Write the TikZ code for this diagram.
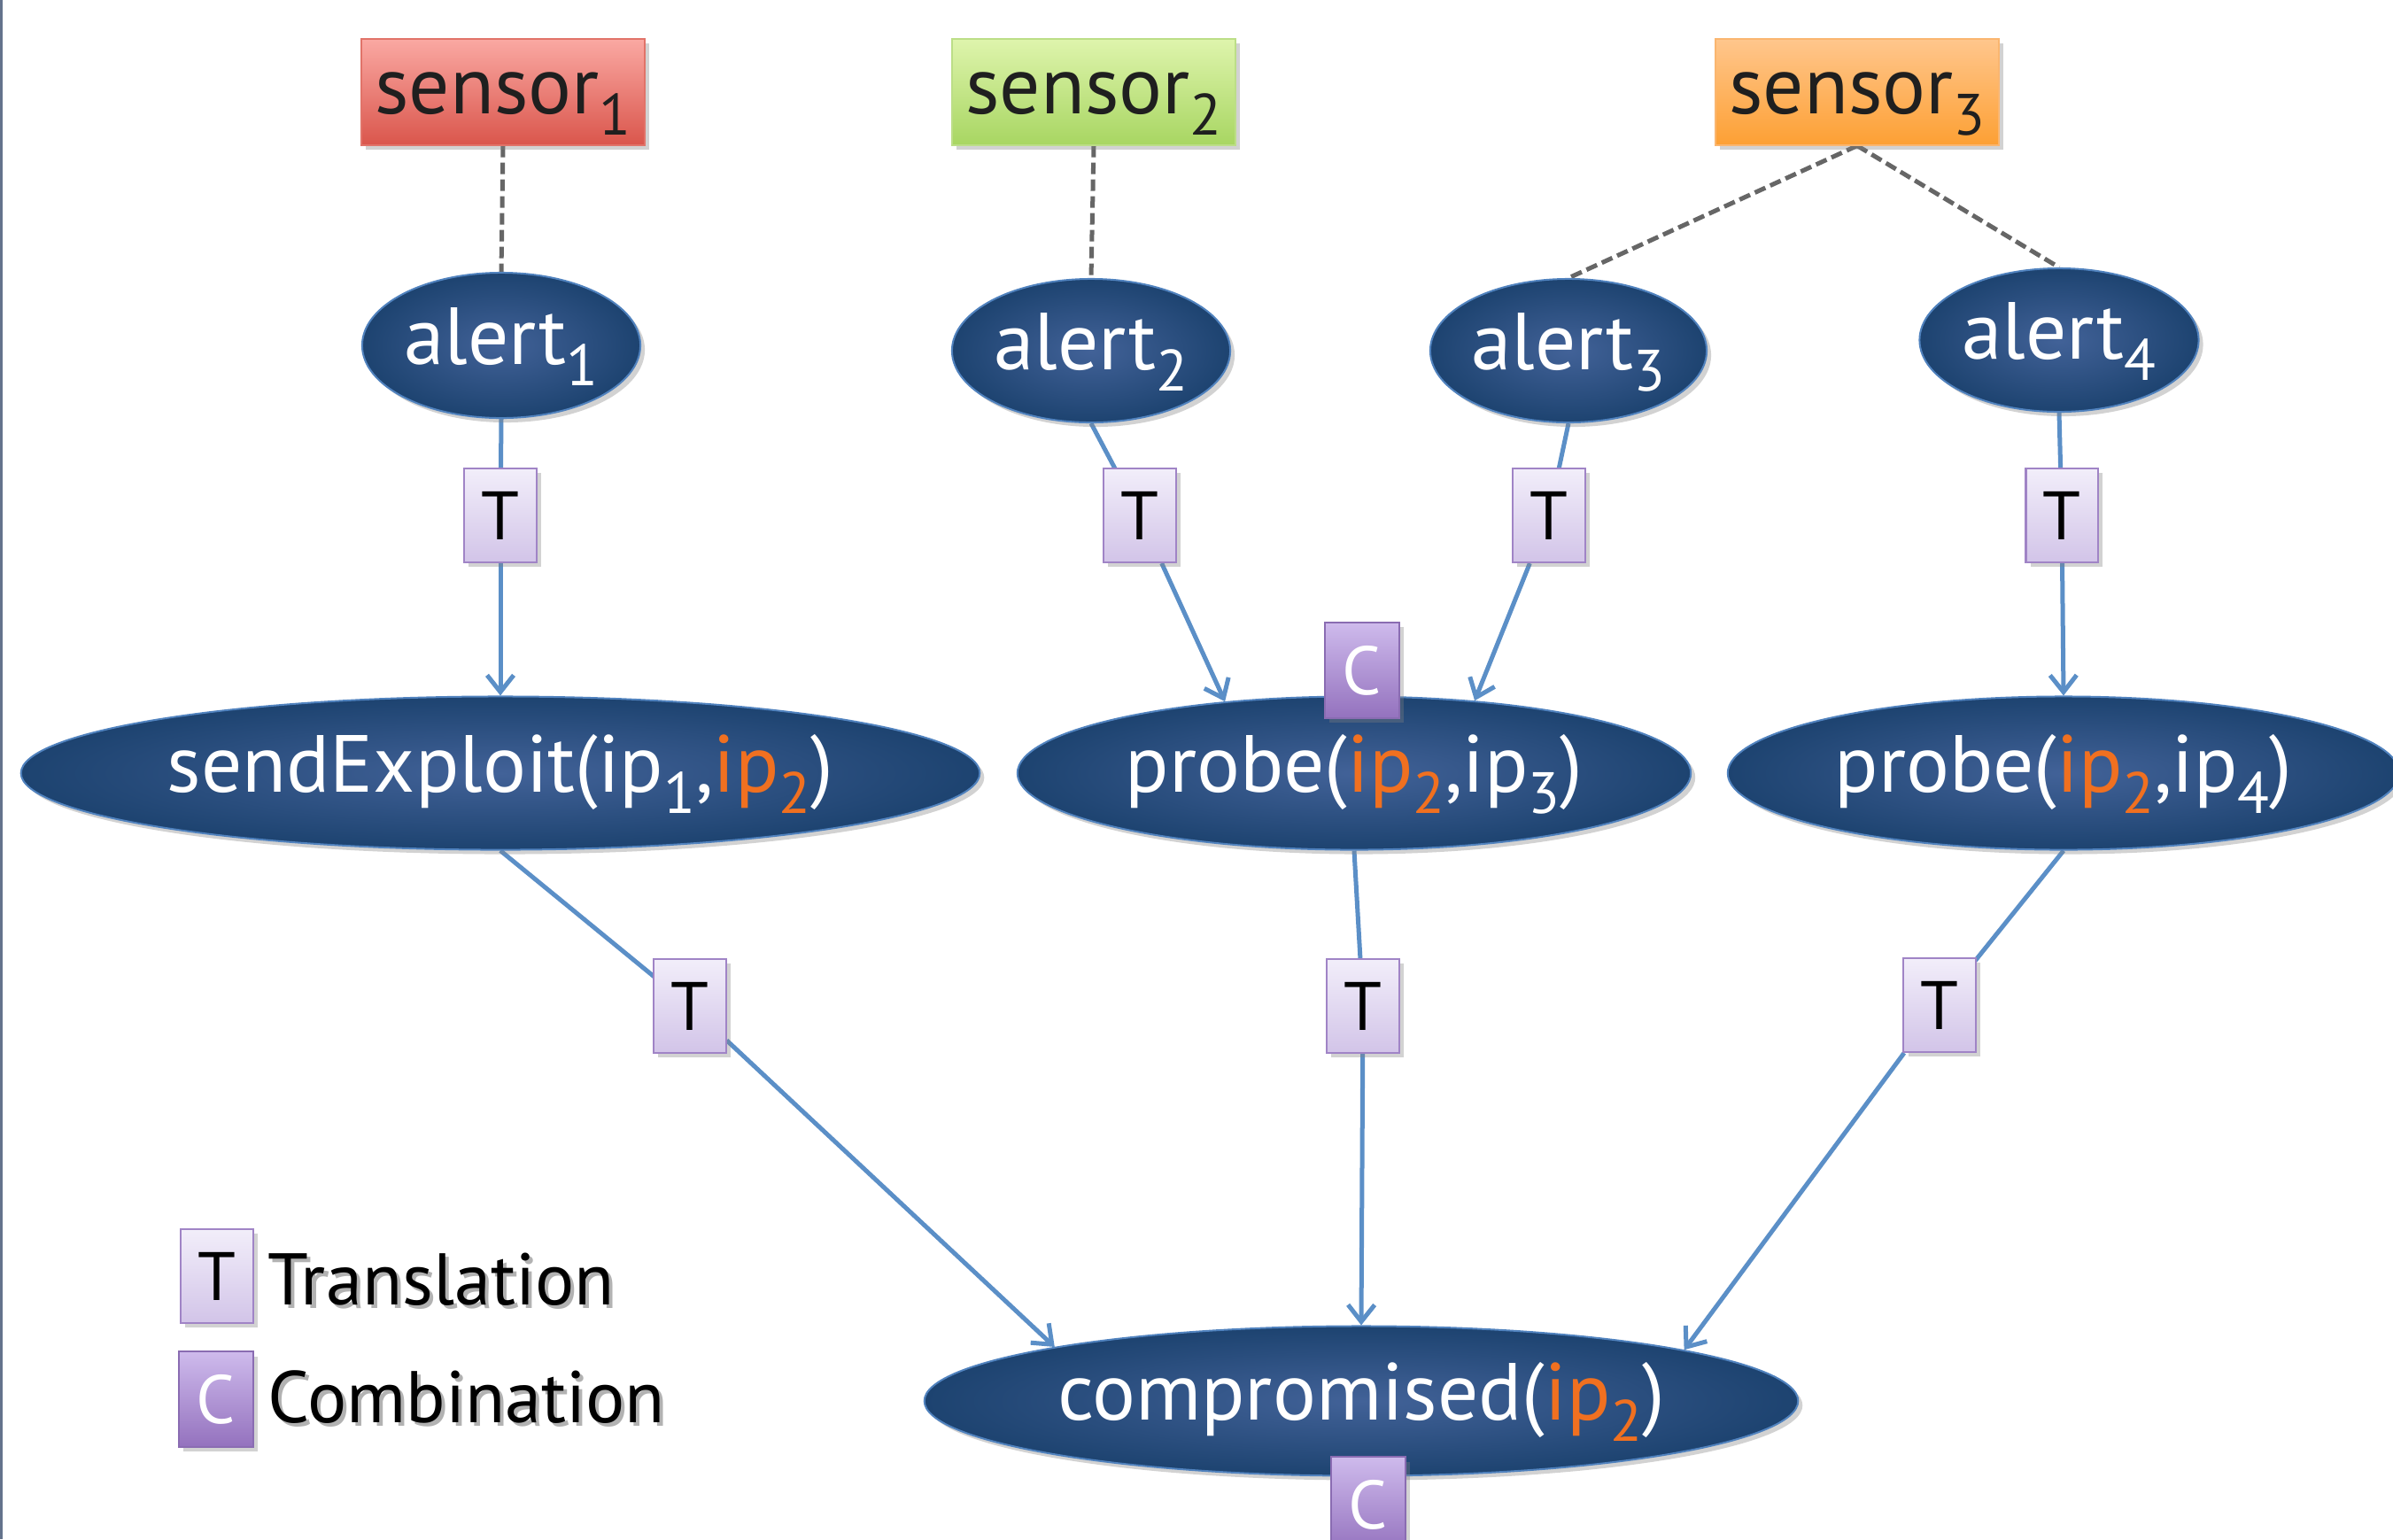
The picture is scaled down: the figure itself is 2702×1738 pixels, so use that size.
\documentclass[tikz,border=0pt]{standalone}
\usepackage{fontspec}
\setmainfont{PT Sans}
\usepackage{graphicx}
\usetikzlibrary{shapes.geometric,arrows.meta,shadows,backgrounds}

\definecolor{factouter}{RGB}{29,67,112}
\definecolor{factinner}{RGB}{66,98,152}
\definecolor{factedge}{RGB}{80,130,190}
\definecolor{linkblue}{RGB}{91,143,199}
\definecolor{iporange}{RGB}{240,112,32}
\definecolor{redtop}{RGB}{250,168,162}
\definecolor{redbot}{RGB}{218,86,76}
\definecolor{rededge}{RGB}{225,115,105}
\definecolor{greentop}{RGB}{222,244,172}
\definecolor{greenbot}{RGB}{168,214,98}
\definecolor{greenedge}{RGB}{188,222,135}
\definecolor{orangetop}{RGB}{255,198,140}
\definecolor{orangebot}{RGB}{253,160,52}
\definecolor{orangeedge}{RGB}{250,182,112}
\definecolor{ttop}{RGB}{242,238,250}
\definecolor{tbot}{RGB}{210,196,232}
\definecolor{tedge}{RGB}{160,132,198}
\definecolor{ctop}{RGB}{206,186,236}
\definecolor{cbot}{RGB}{148,114,190}
\definecolor{cedge}{RGB}{138,108,178}
\definecolor{frameline}{RGB}{100,115,140}

% subscript index and highlighted address
\newcommand{\idx}[1]{\raisebox{-0.27em}{\scalebox{0.72}{#1}}}
\newcommand{\hl}[1]{\textcolor{iporange}{#1}}
% legend text with a soft offset shadow
\newcommand{\shadowtext}[1]{\makebox[0pt][l]{\hspace{0.05em}\raisebox{-0.06em}{\textcolor{black!30}{#1}}}#1}

\tikzset{
  softshadow/.style={drop shadow={opacity=0.35, shadow xshift=0.05cm, shadow yshift=-0.05cm}},
  sensorbox/.style={rectangle, minimum width=3.2cm, minimum height=1.19cm, inner sep=0,
    line width=0.02cm, text=black!88, font=\fontsize{26}{31}\selectfont,
    text height=0.48cm, text depth=0pt, softshadow},
  fact/.style={ellipse, inner sep=0, draw=factedge, line width=0.02cm,
    inner color=factinner, outer color=factouter, text=white,
    font=\fontsize{26}{31}\selectfont, text height=0.42cm, text depth=0pt, softshadow},
  tbox/.style={rectangle, minimum width=0.81cm, minimum height=1.06cm, inner sep=0,
    draw=tedge, line width=0.02cm, top color=ttop, bottom color=tbot,
    text=black, font=\fontsize{22}{26}\selectfont, softshadow},
  cbox/.style={rectangle, minimum width=0.84cm, minimum height=1.07cm, inner sep=0,
    draw=cedge, line width=0.02cm, top color=ctop, bottom color=cbot,
    text=white, font=\fontsize{22}{26}\selectfont, softshadow},
  link/.style={draw=linkblue, line width=0.05cm},
  arr/.style={link, -{Straight Barb[length=1.9mm,width=3.0mm]}},
  sensorlink/.style={draw=black!60, line width=0.05cm, dash pattern=on 0.13cm off 0.06cm},
  legendtext/.style={anchor=base west, inner sep=0, text=black, font=\fontsize{23.5}{28}\selectfont},
}

\begin{document}
\begin{tikzpicture}[x=0.01cm, y=-0.01cm]
  \begin{pgfonlayer}{background}
    \fill[white] (0,0) rectangle (2702,1738);
  \end{pgfonlayer}
  \useasboundingbox (0,0) rectangle (2702,1738);
  \fill[frameline] (0,0) rectangle (3,1738);

  % sensors
  \node[sensorbox, draw=rededge, top color=redtop, bottom color=redbot] (s1) at (568,104) {sensor\idx{1}};
  \node[sensorbox, draw=greenedge, top color=greentop, bottom color=greenbot] (s2) at (1235,104) {sensor\idx{2}};
  \node[sensorbox, draw=orangeedge, top color=orangetop, bottom color=orangebot] (s3) at (2097,104) {sensor\idx{3}};

  % alerts
  \node[fact, minimum width=3.14cm, minimum height=1.64cm] (a1) at (566,390) {alert\idx{1}};
  \node[fact, minimum width=3.14cm, minimum height=1.62cm] (a2) at (1232,396) {alert\idx{2}};
  \node[fact, minimum width=3.12cm, minimum height=1.62cm] (a3) at (1771,396) {alert\idx{3}};
  \node[fact, minimum width=3.15cm, minimum height=1.62cm] (a4) at (2325,384) {alert\idx{4}};

  % observed actions
  \node[fact, minimum width=10.82cm, minimum height=1.73cm] (f1) at (565,873) {sendExploit(ip\idx{1},\hl{ip\idx{2}})};
  \node[fact, minimum width=7.60cm, minimum height=1.73cm] (f2) at (1529,873) {probe(\hl{ip\idx{2}},ip\idx{3})};
  \node[fact, minimum width=7.58cm, minimum height=1.73cm] (f3) at (2330,873) {probe(\hl{ip\idx{2}},ip\idx{4})};

  % goal
  \node[fact, minimum width=9.86cm, minimum height=1.69cm] (g) at (1537,1582) {compromised(\hl{ip\idx{2}})};

  % translation steps
  \node[tbox] (t1) at (565,582) {T};
  \node[tbox] (t2) at (1287,582) {T};
  \node[tbox] (t3) at (1749,582) {T};
  \node[tbox] (t4) at (2328,582) {T};
  \node[tbox] (t5) at (779,1136) {T};
  \node[tbox] (t6) at (1539,1136) {T};
  \node[tbox] (t7) at (2190,1135) {T};

  % combination steps
  \node[cbox] (c1) at (1538,757) {C};
  \node[cbox] (c2) at (1545,1699) {C};

  % legend
  \node[tbox] (lt) at (245,1441) {T};
  \node[cbox] (lc) at (244,1580) {C};
  \node[legendtext] (ltx) at (302,1473) {\shadowtext{Translation}};
  \node[legendtext] (lcx) at (302,1606) {\shadowtext{Combination}};

  \begin{pgfonlayer}{background}
    % sensors to alerts
    \draw[sensorlink] (s1.south) -- (a1.north);
    \draw[sensorlink] (s2.south) -- (a2.north);
    \draw[sensorlink] (s3.south) -- (a3.north);
    \draw[sensorlink] (s3.south) -- (a4.north);

    % alerts to actions
    \draw[link] (a1.south) -- (t1.center);
    \draw[arr] (t1) -- (f1.north);
    \draw[link] (a2.south) -- (t2.center);
    \draw[arr] (t2) -- (f2.151);
    \draw[link] (a3.south) -- (t3.center);
    \draw[arr] (t3) -- (f2.31);
    \draw[link] (a4.south) -- (t4.center);
    \draw[arr] (t4) -- (f3.north);

    % actions to goal
    \draw[link] (f1.south) -- (t5.center);
    \draw[arr] (t5) -- (g.170);
    \draw[link] (f2.south) -- (t6.center);
    \draw[arr] (t6) -- (g.north);
    \draw[link] (f3.south) -- (t7.center);
    \draw[arr] (t7) -- (g.9);
  \end{pgfonlayer}
\end{tikzpicture}
\end{document}
